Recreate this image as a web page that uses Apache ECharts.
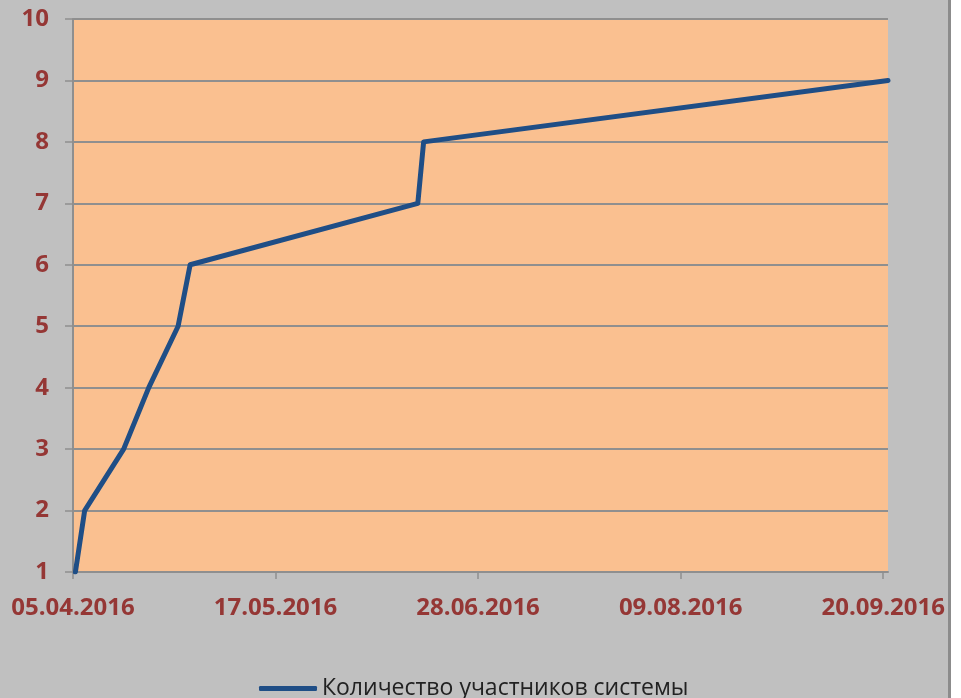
<!DOCTYPE html>
<html>
<head>
<meta charset="utf-8">
<script src="https://cdn.jsdelivr.net/npm/echarts@6/dist/echarts.min.js"></script>
<style>
html,body{margin:0;padding:0;background:#fff;}
#c{width:961px;height:698px;background:linear-gradient(to right,#c0c0c0 0,#c0c0c0 948px,#8c8c8c 948px,#8c8c8c 951px,#fff 951px);}
</style>
</head>
<body>
<div id="c"></div>
<script>
// Data
const seriesName = 'Количество участников системы';
const dates = ['2016-04-05T12:00', '2016-04-07T10:00', '2016-04-15T12:00', '2016-04-20T17:00', '2016-04-26T19:00', '2016-04-29T07:00', '2016-06-15T12:00', '2016-06-16T17:00', '2016-09-21T00:00'];
const participants = [1, 2, 3, 4, 5, 6, 7, 8, 9];
const xTickDates = ['2016-04-05', '2016-05-17', '2016-06-28', '2016-08-09', '2016-09-20'];
const xStart = '2016-04-05';
const xEnd = '2016-09-21';
const yTicks = [1, 2, 3, 4, 5, 6, 7, 8, 9, 10];

const DAY = 86400000;
function toMs(s) {
  const [d, t] = s.split('T');
  const [Y, M, D] = d.split('-').map(Number);
  let h = 0, m = 0;
  if (t) { [h, m] = t.split(':').map(Number); }
  return Date.UTC(Y, M - 1, D, h, m);
}
const t0 = toMs(xStart);
const dayOf = s => (toMs(s) - t0) / DAY;
const fmt = v => {
  const d = new Date(t0 + Math.round(v) * DAY);
  const p = n => String(n).padStart(2, '0');
  return p(d.getUTCDate()) + '.' + p(d.getUTCMonth() + 1) + '.' + d.getUTCFullYear();
};
const tickDays = xTickDates.map(dayOf);
const seriesData = dates.map((d, i) => [dayOf(d), participants[i]]);

const chart = echarts.init(document.getElementById('c'), null, {renderer: 'canvas'});
const labelColor = '#953735';
const gridColor = '#8f8f8f';
chart.setOption({
  backgroundColor: 'transparent',
  animation: false,
  grid: {
    left: 73, right: 73, top: 19, bottom: 126,
    show: true, backgroundColor: '#fac090', borderWidth: 0
  },
  xAxis: {
    type: 'value',
    min: 0,
    max: dayOf(xEnd),
    axisLine: {show: true, lineStyle: {color: gridColor, width: 2}},
    axisTick: {show: true, customValues: tickDays, length: 7, lineStyle: {color: gridColor, width: 1.5}},
    axisLabel: {
      customValues: tickDays,
      formatter: fmt,
      margin: 24,
      color: labelColor,
      fontFamily: 'Open Sans',
      fontWeight: 'bold',
      fontSize: 24
    },
    splitLine: {show: false}
  },
  yAxis: {
    type: 'value',
    min: yTicks[0],
    max: yTicks[yTicks.length - 1],
    interval: 1,
    axisLine: {show: true, lineStyle: {color: gridColor, width: 2}},
    axisTick: {show: true, length: 8, lineStyle: {color: gridColor, width: 1.5}},
    axisLabel: {
      margin: 24,
      color: labelColor,
      fontFamily: 'Open Sans',
      fontWeight: 'bold',
      fontSize: 24
    },
    splitLine: {show: true, lineStyle: {color: gridColor, width: 2}}
  },
  legend: {
    left: 254,
    top: 672,
    icon: 'roundRect',
    itemWidth: 58,
    itemHeight: 5,
    itemGap: 10,
    textStyle: {
      color: '#222222',
      fontFamily: 'Open Sans',
      fontSize: 23,
      padding: [0, 0, 0, 0]
    },
    data: [seriesName]
  },
  series: [{
    name: seriesName,
    type: 'line',
    data: seriesData,
    symbol: 'none',
    showSymbol: false,
    smooth: false,
    color: '#1f4e86',
    lineStyle: {color: '#1f4e86', width: 5, cap: 'round', join: 'round'}
  }]
});
</script>
</body>
</html>
